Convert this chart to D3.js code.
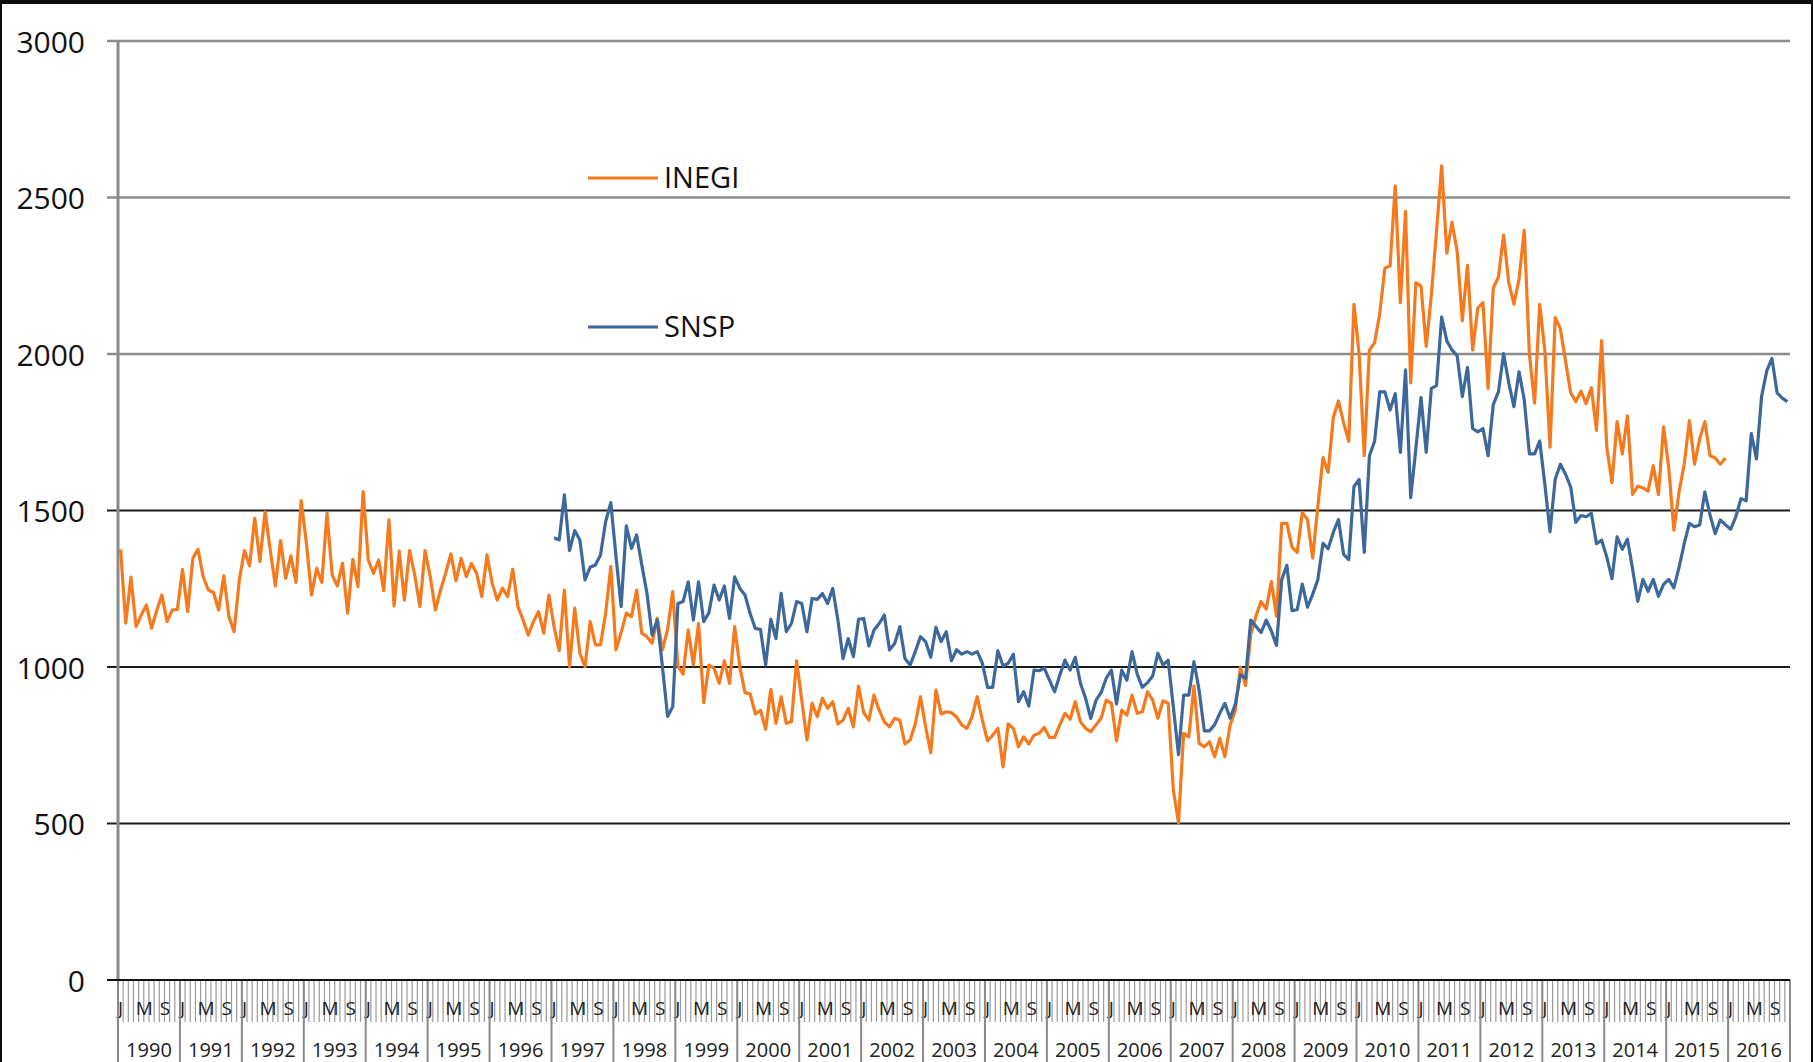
<!DOCTYPE html>
<html>
<head>
<meta charset="utf-8">
<script src="https://cdn.jsdelivr.net/npm/d3@7"></script>
<style>
  html, body { margin: 0; padding: 0; background: #000; }
  svg { display: block; }
</style>
</head>
<body>
<div id="chart"></div>
<script>
// years on the category axis, month letters shown under each year
const years = d3.range(1990, 2017);
const monthLabels = ["J", "", "", "", "M", "", "", "", "S", "", "", ""];
const yTicks = [0, 500, 1000, 1500, 2000, 2500, 3000];
const seriesNames = ["INEGI", "SNSP"];

// INEGI, monthly, Jan 1990 - Dec 2015
const inegi = [
  1376,1140,1287,1129,1166,1198,1124,1180,1230,1145,1182,1184, // 1990
  1312,1177,1347,1376,1289,1246,1238,1182,1291,1161,1113,1278, // 1991
  1372,1323,1475,1337,1496,1374,1259,1404,1283,1355,1270,1532, // 1992
  1396,1230,1315,1270,1491,1294,1259,1331,1172,1344,1257,1560, // 1993
  1342,1299,1342,1244,1470,1195,1370,1214,1372,1294,1193,1372, // 1994
  1289,1182,1246,1300,1361,1276,1347,1289,1331,1299,1225,1358, // 1995
  1268,1214,1252,1225,1312,1193,1150,1102,1145,1177,1108,1230, // 1996
  1129,1052,1246,1001,1188,1044,1001,1145,1071,1071,1172,1321, // 1997
  1055,1110,1172,1161,1246,1108,1097,1076,1156,1055,1120,1241, // 1998
  1003,977,1118,1006,1139,886,1006,996,948,1020,948,1129,      // 1999
  1001,918,914,850,862,801,928,820,905,820,825,1020,           // 2000
  894,767,884,841,900,868,889,818,830,868,809,939,             // 2001
  854,830,910,862,825,809,836,830,754,767,818,905,             // 2002
  809,726,926,850,857,854,840,815,804,841,905,830,             // 2003
  764,782,804,681,818,804,745,777,754,782,788,807,             // 2004
  775,775,815,852,833,889,825,804,793,815,836,894,             // 2005
  884,764,862,846,910,852,857,921,894,836,892,884,             // 2006
  607,502,788,777,939,756,745,761,713,772,713,815,             // 2007
  860,999,941,1104,1162,1209,1185,1273,1162,1459,1459,1383,    // 2008
  1366,1494,1471,1348,1512,1669,1622,1797,1850,1780,1721,2159, // 2009
  2001,1675,2013,2036,2129,2275,2281,2537,2164,2456,1908,2228, // 2010
  2217,2024,2188,2392,2601,2322,2421,2328,2106,2283,2013,2147, // 2011
  2164,1890,2211,2246,2380,2228,2159,2240,2395,2000,1843,2159, // 2012
  2010,1702,2116,2081,1978,1876,1848,1881,1841,1892,1756,2043, // 2013
  1702,1589,1784,1681,1802,1551,1578,1572,1562,1643,1551,1767, // 2014
  1637,1437,1560,1648,1787,1648,1729,1784,1675,1668,1648,1668  // 2015
];

// SNSP, monthly, Jan 1997 - Dec 2016
const snspStart = 1997;
const snsp = [
  1413,1406,1550,1372,1436,1406,1278,1319,1326,1358,1465,1525, // 1997
  1353,1193,1451,1379,1422,1326,1236,1102,1150,1001,842,873,   // 1998
  1203,1209,1272,1150,1272,1145,1173,1262,1214,1259,1155,1288, // 1999
  1251,1230,1171,1123,1120,1006,1152,1091,1235,1113,1139,1209, // 2000
  1203,1113,1219,1216,1235,1203,1251,1150,1027,1091,1033,1152, // 2001
  1155,1067,1118,1139,1166,1054,1075,1129,1027,1006,1049,1097, // 2002
  1081,1031,1127,1081,1113,1020,1055,1041,1049,1041,1049,1012, // 2003
  935,935,1052,1003,1012,1041,889,921,875,990,988,996,         // 2004
  958,921,974,1022,990,1031,948,900,836,893,918,964,           // 2005
  990,882,990,958,1049,977,935,950,971,1044,1006,1022,         // 2006
  873,720,910,910,1017,926,796,796,815,852,884,836,            // 2007
  880,975,964,1150,1130,1110,1150,1115,1069,1279,1325,1180,    // 2008
  1183,1265,1191,1232,1279,1395,1378,1430,1471,1360,1343,1576, // 2009
  1599,1366,1675,1721,1879,1879,1821,1873,1686,1949,1541,1698, // 2010
  1861,1686,1890,1899,2118,2042,2013,1995,1864,1957,1762,1751, // 2011
  1762,1675,1838,1879,2001,1908,1832,1943,1854,1681,1681,1722, // 2012
  1583,1432,1600,1648,1616,1575,1462,1484,1480,1491,1394,1405, // 2013
  1351,1282,1416,1376,1408,1313,1210,1280,1242,1280,1226,1264, // 2014
  1280,1253,1318,1394,1459,1448,1454,1559,1486,1426,1470,1454, // 2015
  1440,1480,1538,1531,1746,1665,1865,1946,1986,1876,1859,1848  // 2016
];

const colors = { INEGI: "#f67a1d", SNSP: "#3d689c" };

function drawChart() {
  const width = 1813, height = 1062;
  const left = 118, right = 1790, top = 41, bottom = 980;
  const font = "'Open Sans', 'Liberation Sans', sans-serif";

  const svg = d3.select("#chart").append("svg")
    .attr("width", width)
    .attr("height", height);

  // black frame like the screenshot, white sheet inside
  svg.append("rect").attr("width", width).attr("height", height).attr("fill", "#0d0d0d");
  svg.append("rect").attr("x", 2).attr("y", 4)
    .attr("width", width - 4).attr("height", height - 4).attr("fill", "#fff");

  // one band per month
  const nMonths = years.length * 12;
  const x = d3.scaleBand().domain(d3.range(nMonths)).range([left, right]);
  const y = d3.scaleLinear().domain([0, 3000]).range([bottom, top]);
  const bw = x.bandwidth();

  // gridlines: the top three are grey, the lower ones dark
  const gridColor = v => v >= 2000 ? "#8d8d8d" : "#1c1c1c";
  svg.append("g")
    .selectAll("line")
    .data(yTicks)
    .join("line")
    .attr("x1", left - 11)
    .attr("x2", right)
    .attr("y1", d => y(d))
    .attr("y2", d => y(d))
    .attr("stroke", gridColor)
    .attr("stroke-width", d => d >= 2000 ? 2.6 : 2);

  // y axis labels, no thousands separator
  const yAxis = d3.axisLeft(y).tickValues(yTicks).tickFormat(d3.format("d")).tickSize(0).tickPadding(33);
  const gy = svg.append("g").attr("transform", `translate(${left},0)`).call(yAxis);
  gy.select(".domain").remove();
  gy.selectAll("text")
    .attr("font-family", font)
    .attr("font-size", 30)
    .attr("fill", "#111")
    .attr("dy", "0.38em");

  // month tick comb under the plot
  svg.append("g")
    .selectAll("line")
    .data(d3.range(nMonths + 1))
    .join("line")
    .attr("x1", d => left + d * bw)
    .attr("x2", d => left + d * bw)
    .attr("y1", bottom)
    .attr("y2", 1022)
    .attr("stroke", "#9a9a9a")
    .attr("stroke-width", 1.2);

  // month letters (J, M, S)
  const letters = [];
  years.forEach((yr, k) => monthLabels.forEach((m, j) => {
    if (m) letters.push({ i: k * 12 + j, m: m });
  }));
  svg.append("g")
    .selectAll("text")
    .data(letters)
    .join("text")
    .attr("x", d => x(d.i) + bw / 2 + (d.m === "J" ? 0 : 3))
    .attr("y", 1015)
    .attr("text-anchor", "middle")
    .attr("font-family", font)
    .attr("font-size", 19)
    .attr("fill", "#222")
    .text(d => d.m);

  // year separators and year labels
  svg.append("g")
    .selectAll("line")
    .data(d3.range(years.length + 1))
    .join("line")
    .attr("x1", d => left + d * 12 * bw)
    .attr("x2", d => left + d * 12 * bw)
    .attr("y1", bottom)
    .attr("y2", height)
    .attr("stroke", "#8a8a8a")
    .attr("stroke-width", 2);

  svg.append("g")
    .selectAll("text")
    .data(years)
    .join("text")
    .attr("x", (d, k) => left + (k + 0.5) * 12 * bw)
    .attr("y", 1057)
    .attr("text-anchor", "middle")
    .attr("font-family", font)
    .attr("font-size", 20)
    .attr("fill", "#222")
    .text(d => d);

  // left axis line
  svg.append("line")
    .attr("x1", left).attr("x2", left)
    .attr("y1", top).attr("y2", bottom)
    .attr("stroke", "#8a8a8a")
    .attr("stroke-width", 3);

  // baseline
  svg.append("line")
    .attr("x1", left - 11).attr("x2", right)
    .attr("y1", y(0)).attr("y2", y(0))
    .attr("stroke", "#111")
    .attr("stroke-width", 2);

  // series
  const offset = (snspStart - years[0]) * 12;
  const series = [
    { name: "INEGI", values: inegi.map((v, i) => ({ i: i, v: v })) },
    { name: "SNSP", values: snsp.map((v, i) => ({ i: i + offset, v: v })) }
  ];

  const line = d3.line()
    .x(d => x(d.i) + bw / 2)
    .y(d => y(d.v));

  svg.append("g")
    .selectAll("path")
    .data(series)
    .join("path")
    .attr("d", d => line(d.values))
    .attr("fill", "none")
    .attr("stroke", d => colors[d.name])
    .attr("stroke-width", 3.2)
    .attr("stroke-linejoin", "round");

  // legend, placed inside the plot
  const legend = svg.append("g")
    .selectAll("g")
    .data(seriesNames)
    .join("g")
    .attr("transform", (d, k) => `translate(588,${178 + k * 149})`);

  legend.append("line")
    .attr("x1", 0).attr("x2", 70)
    .attr("stroke", d => colors[d])
    .attr("stroke-width", 3);

  legend.append("text")
    .attr("x", 76)
    .attr("dy", "0.36em")
    .attr("font-family", font)
    .attr("font-size", 29)
    .attr("fill", "#111")
    .text(d => d);
}

drawChart();
</script>
</body>
</html>
